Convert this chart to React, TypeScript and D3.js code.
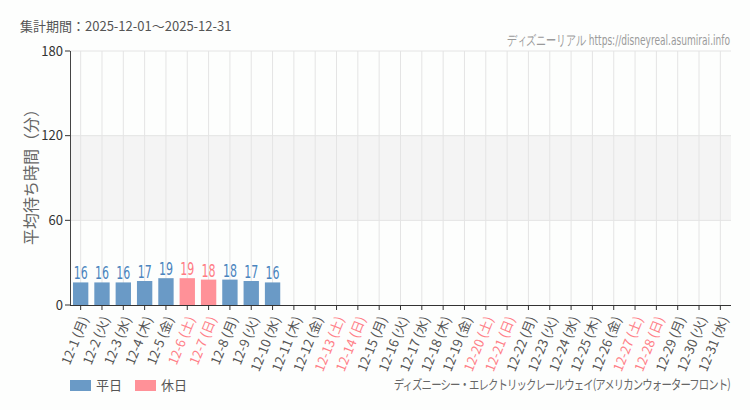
import React from 'react'
import * as d3 from 'd3'

// data
const dayLabels = [
  '12-1', '12-2', '12-3', '12-4', '12-5', '12-6', '12-7', '12-8', '12-9', '12-10',
  '12-11', '12-12', '12-13', '12-14', '12-15', '12-16', '12-17', '12-18', '12-19', '12-20',
  '12-21', '12-22', '12-23', '12-24', '12-25', '12-26', '12-27', '12-28', '12-29', '12-30', '12-31',
]
const weekdays = [
  '月', '火', '水', '木', '金', '土', '日', '月', '火', '水',
  '木', '金', '土', '日', '月', '火', '水', '木', '金', '土',
  '日', '月', '火', '水', '木', '金', '土', '日', '月', '火', '水',
]
const holidays = [
  '12-6', '12-7', '12-13', '12-14', '12-20', '12-21', '12-27', '12-28',
]
const waitValues: (number | null)[] = [
  16, 16, 16, 17, 19, 19, 18, 18, 17, 16,
  null, null, null, null, null, null, null, null, null, null,
  null, null, null, null, null, null, null, null, null, null, null,
]
const yTicks = [0, 60, 120, 180]

const title = '集計期間：2025-12-01～2025-12-31'
const siteName = 'ディズニーリアル https://disneyreal.asumirai.info'
const attraction = 'ディズニーシー・エレクトリックレールウェイ(アメリカンウォーターフロント)'
const yTitle = '平均待ち時間（分）'

const W = 750
const H = 410
const margin = { top: 51, right: 19, bottom: 105, left: 70 }

const BLUE = '#6a9ac6'
const PINK = '#ff9198'
const BLUE_TXT = '#4a84be'
const PINK_TXT = '#ff7b83'
const JP = '"Noto Sans CJK JP", "Noto Sans", sans-serif'
const COND = '"DejaVu Sans Condensed", "DejaVu Sans", sans-serif'

export default function App() {
  const x0 = margin.left
  const x1 = W - margin.right
  const y0 = H - margin.bottom
  const y1 = margin.top

  const xScale = d3.scaleBand<string>().domain(dayLabels).range([x0, x1]).paddingInner(0.28).paddingOuter(0.14)
  const yScale = d3.scaleLinear().domain([0, 180]).range([y0, y1])

  const tickX = (d: string) => (xScale(d) as number) + xScale.bandwidth() / 2
  const isHoliday = (d: string) => holidays.includes(d)

  return (
    <svg width={W} height={H} style={{ position: 'absolute', left: 0, top: 0, background: '#fdfefd' }}>
      {/* band 60-120 */}
      <rect x={x0} y={yScale(120)} width={x1 - x0} height={yScale(60) - yScale(120)} fill="#f4f4f4" />
      {/* vertical grid */}
      {dayLabels.map(d => (
        <line key={'vg' + d} x1={tickX(d)} x2={tickX(d)} y1={y1} y2={y0} stroke="#e4e4e4" strokeWidth={1} />
      ))}
      {/* horizontal grid */}
      {yTicks.filter(t => t > 0).map(t => (
        <line key={'hg' + t} x1={x0} x2={x1} y1={yScale(t)} y2={yScale(t)} stroke="#e4e4e4" strokeWidth={1} />
      ))}

      {/* bars */}
      {dayLabels.map((d, i) => {
        const v = waitValues[i]
        if (v === null) return null
        const hol = isHoliday(d)
        return (
          <g key={'b' + d}>
            <rect x={xScale(d)} y={yScale(v)} width={xScale.bandwidth()} height={y0 - yScale(v)} fill={hol ? PINK : BLUE} />
            <text transform={`translate(${tickX(d)},${yScale(v) - 3}) scale(0.72,1)`} textAnchor="middle"
              fontFamily={COND} fontSize={17} fill={hol ? PINK_TXT : BLUE_TXT}>{v}</text>
          </g>
        )
      })}

      {/* y axis */}
      <line x1={x0 + 0.5} x2={x0 + 0.5} y1={y1} y2={y0} stroke="#444" strokeWidth={1} />
      {yTicks.map(t => (
        <g key={'yt' + t}>
          <line x1={x0 - 5} x2={x0} y1={yScale(t)} y2={yScale(t)} stroke="#333" />
          <text x={x0 - 7} y={yScale(t)} dy="0.35em" textAnchor="end" fontFamily={JP} fontSize={13} fill="#333">{t}</text>
        </g>
      ))}
      <text transform={`translate(37,${(y0 + y1) / 2 - 5}) rotate(-90)`} textAnchor="middle" fontFamily={JP} fontSize={16} fill="#666">{yTitle}</text>

      {/* x axis */}
      <line x1={x0} x2={x1} y1={y0 + 0.5} y2={y0 + 0.5} stroke="#333" strokeWidth={1} />
      {dayLabels.map((d, i) => (
        <g key={'xt' + d}>
          <line x1={tickX(d)} x2={tickX(d)} y1={y0} y2={y0 + 5} stroke="#333" />
          <text transform={`translate(${tickX(d) + 4},${y0 + 12}) rotate(-68)`} textAnchor="end" dy="0.35em"
            fontFamily={JP} fontSize={13} fill={isHoliday(d) ? '#ff8088' : '#555'}>
            {`${d} (${weekdays[i]})`}
          </text>
        </g>
      ))}

      {/* header */}
      <text x={20} y={31} fontFamily={JP} fontSize={13} fill="#555">{title}</text>
      <text transform="translate(730,45) scale(0.72,1)" textAnchor="end" fontFamily={COND} fontSize={14} fill="#9a9a9a">{siteName}</text>

      {/* legend */}
      <rect x={70} y={380} width={21} height={11} fill={BLUE} />
      <text x={96} y={390} fontFamily={JP} fontSize={13} fill="#555">平日</text>
      <rect x={135} y={380} width={21} height={11} fill={PINK} />
      <text x={161} y={390} fontFamily={JP} fontSize={13} fill="#555">休日</text>

      <text transform="translate(730,389) scale(0.8,1)" textAnchor="end" fontFamily={JP} fontSize={13} fill="#666"
        letterSpacing={-1.1}>{attraction}</text>
    </svg>
  )
}
